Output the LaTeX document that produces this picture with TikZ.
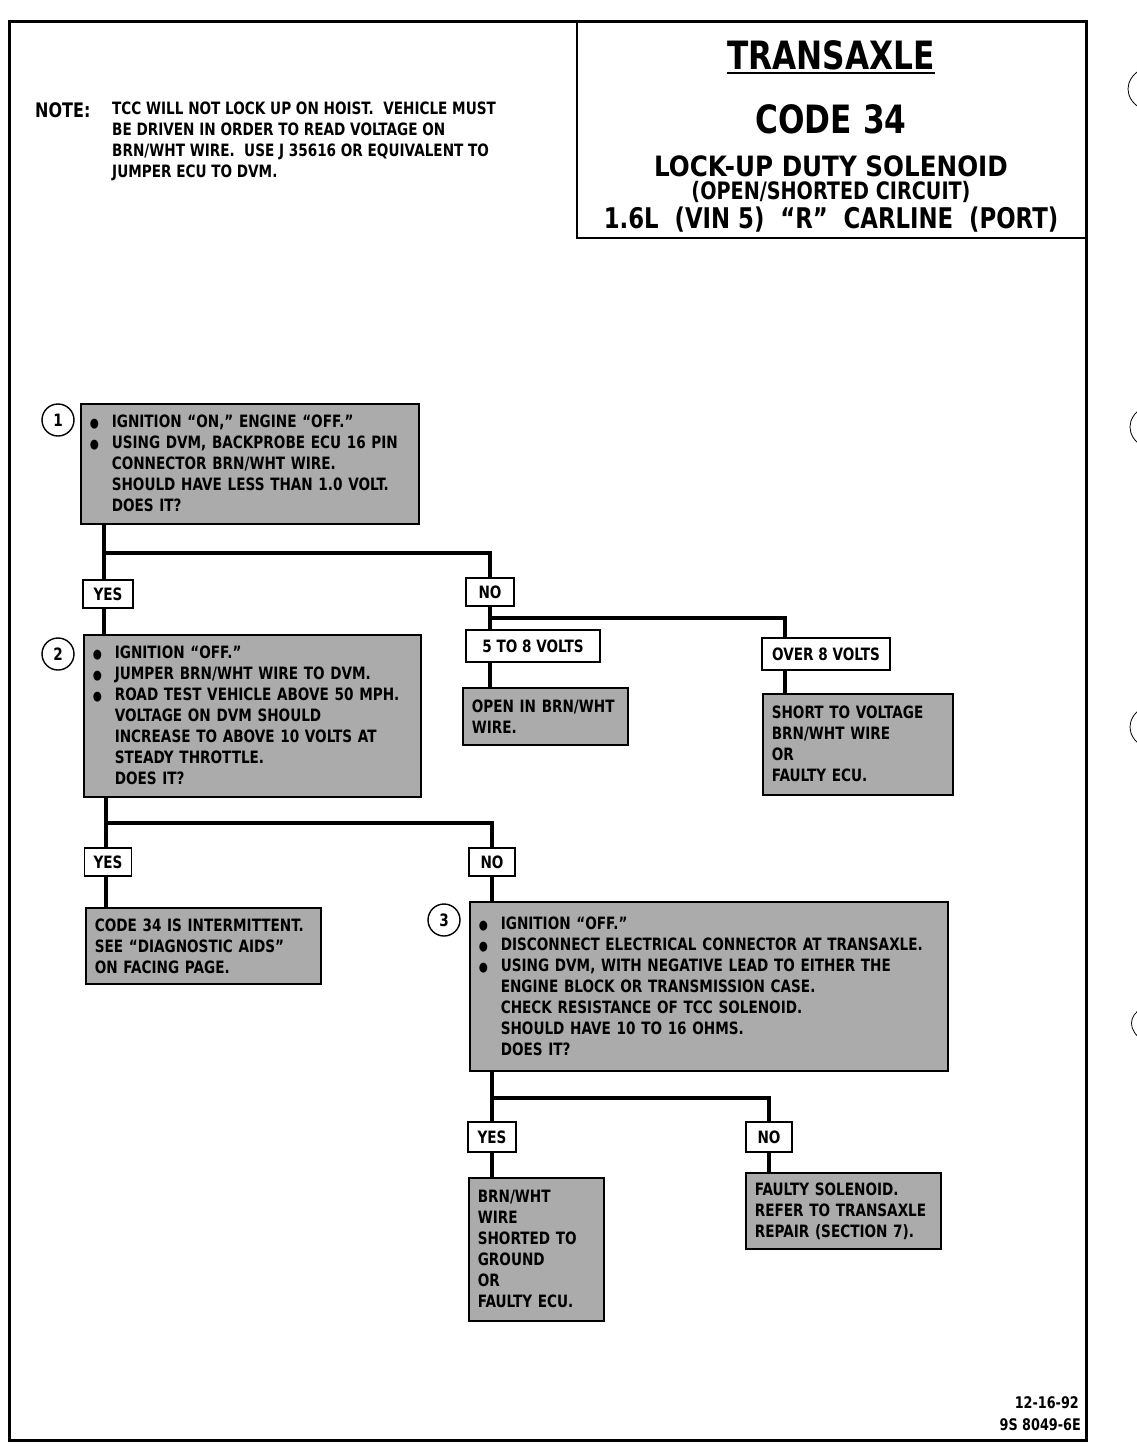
\documentclass[tikz,border=0pt]{standalone}
\usepackage{fontspec}
\setmainfont{DejaVu Sans}[FakeStretch=0.8]
\newfontfamily\widefont{DejaVu Sans}[FakeStretch=0.88]
\usetikzlibrary{positioning}

\newcommand{\bl}{\makebox[22pt][l]{\fontsize{13}{13}\selectfont ●}}
\newcommand{\ind}{\hspace*{22pt}}

\begin{document}
\begin{tikzpicture}[
    x=1pt, y=-1pt,
    font=\bfseries\fontsize{17}{21}\selectfont,
    frame/.style={line width=3pt},
    qbox/.style={draw, line width=1.6pt, fill=black!33, anchor=north west,
                 align=left, inner xsep=9pt, inner ysep=3pt},
    tag/.style={draw, line width=1.6pt, fill=white, inner sep=0pt,
                minimum height=28pt},
    num/.style={circle, draw, line width=1.4pt, minimum size=32pt, inner sep=0pt},
    wire/.style={line width=4.5pt},
    hole/.style={line width=0.8pt},
  ]
  \useasboundingbox (0,0) rectangle (1136,1456);

  % --- page frame and title block ---
  \draw[frame] (9,21) rectangle (1086,1440);
  \draw[line width=2pt] (577,21) -- (577,238) -- (1086,238);
  \node[anchor=base, inner sep=0pt] (ttl) at (831,69)
    {\fontsize{39}{39}\selectfont TRANSAXLE};
  \draw[line width=2.5pt] ([yshift=-4pt]ttl.base west) -- ([yshift=-4pt]ttl.base east);
  \node[anchor=base] (code) at (831,133) {\fontsize{39}{39}\selectfont CODE 34};
  \node[anchor=base] (sub1) at (831,176)
    {\widefont\fontsize{28}{28}\selectfont LOCK-UP DUTY SOLENOID};
  \node[anchor=base] (sub2) at (831,199)
    {\fontsize{24}{24}\selectfont (OPEN/SHORTED CIRCUIT)};
  \node[anchor=base] (sub3) at (831,228)
    {\fontsize{28.5}{28.5}\selectfont 1.6L\ \ (VIN 5)\ \ “R”\ \ CARLINE\ \ (PORT)};

  % --- note ---
  \node[anchor=base west, inner sep=0pt, font=\bfseries\fontsize{20}{20}\selectfont]
    (notehd) at (35,117) {NOTE:};
  \node[anchor=north west, align=left, inner sep=0pt] (note) at (112,102)
    {TCC WILL NOT LOCK UP ON HOIST.\ \ VEHICLE MUST\\
     BE DRIVEN IN ORDER TO READ VOLTAGE ON\\
     BRN/WHT WIRE.\ \ USE J 35616 OR EQUIVALENT TO\\
     JUMPER ECU TO DVM.};

  % --- step 1 ---
  \node[qbox, text width=320pt, minimum height=120pt] (q1) at (80,403)
    {\bl IGNITION “ON,” ENGINE “OFF.”\\
     \bl USING DVM, BACKPROBE ECU 16 PIN\\
     \ind CONNECTOR BRN/WHT WIRE.\\
     \ind SHOULD HAVE LESS THAN 1.0 VOLT.\\
     \ind DOES IT?};
  \node[num] (n1) at (58,420) {1};
  \coordinate (b1) at (104,553);
  \node[tag, minimum width=50pt] (yes1) at (108,594) {YES};
  \node[tag, minimum width=48pt] (no1) at (490,592) {NO};
  \coordinate (b2) at (490,618);
  \coordinate (b3) at (785,618);
  \node[tag, minimum width=134pt, minimum height=32pt] (v58) at (533,646) {5 TO 8 VOLTS};
  \node[tag, minimum width=128pt, minimum height=32pt] (v8) at (826,654) {OVER 8 VOLTS};
  \node[qbox, text width=147pt, minimum height=57pt] (open) at (462,687)
    {OPEN IN BRN/WHT\\ WIRE.};
  \node[qbox, text width=172pt, minimum height=101pt] (short) at (762,693)
    {SHORT TO VOLTAGE\\ BRN/WHT WIRE\\ OR\\ FAULTY ECU.};

  \draw[wire] (q1.south -| b1) -- (yes1.north -| b1);
  \draw[wire] (b1) -| (no1.north);
  \draw[wire] (no1.south) -- (v58.north -| b2);
  \draw[wire] (b2) -- (b3) -- (v8.north -| b3);
  \draw[wire] (v58.south -| b2) -- (open.north -| b2);
  \draw[wire] (v8.south -| b3) -- (short.north -| b3);

  % --- step 2 ---
  \node[qbox, text width=319pt, minimum height=162pt] (q2) at (83,634)
    {\bl IGNITION “OFF.”\\
     \bl JUMPER BRN/WHT WIRE TO DVM.\\
     \bl ROAD TEST VEHICLE ABOVE 50 MPH.\\
     \ind VOLTAGE ON DVM SHOULD\\
     \ind INCREASE TO ABOVE 10 VOLTS AT\\
     \ind STEADY THROTTLE.\\
     \ind DOES IT?};
  \node[num] (n2) at (58,654) {2};
  \draw[wire] (yes1.south -| b1) -- (q2.north -| b1);
  \coordinate (b4) at (106,823);
  \node[tag, minimum width=47pt] (yes2) at (108,862) {YES};
  \node[tag, minimum width=46pt] (no2) at (492,862) {NO};
  \node[qbox, text width=217pt, minimum height=76pt] (intm) at (85,907)
    {CODE 34 IS INTERMITTENT.\\ SEE “DIAGNOSTIC AIDS”\\ ON FACING PAGE.};

  \draw[wire] (q2.south -| b4) -- (yes2.north -| b4);
  \draw[wire] (b4) -| (no2.north);
  \draw[wire] (yes2.south -| b4) -- (intm.north -| b4);

  % --- step 3 ---
  \node[qbox, text width=460pt, minimum height=169pt] (q3) at (469,901)
    {\bl IGNITION “OFF.”\\
     \bl DISCONNECT ELECTRICAL CONNECTOR AT TRANSAXLE.\\
     \bl USING DVM, WITH NEGATIVE LEAD TO EITHER THE\\
     \ind ENGINE BLOCK OR TRANSMISSION CASE.\\
     \ind CHECK RESISTANCE OF TCC SOLENOID.\\
     \ind SHOULD HAVE 10 TO 16 OHMS.\\
     \ind DOES IT?};
  \node[num] (n3) at (444,920) {3};
  \draw[wire] (no2.south) -- (q3.north -| no2);
  \coordinate (b5) at (492,1098);
  \node[tag, minimum width=48pt, minimum height=30pt] (yes3) at (492,1137) {YES};
  \node[tag, minimum width=46pt, minimum height=30pt] (no3) at (769,1137) {NO};
  \node[qbox, text width=117pt, minimum height=143pt] (gnd) at (468,1177)
    {BRN/WHT\\ WIRE\\ SHORTED TO\\ GROUND\\ OR\\ FAULTY ECU.};
  \node[qbox, text width=177pt, minimum height=76pt] (sol) at (745,1172)
    {FAULTY SOLENOID.\\ REFER TO TRANSAXLE\\ REPAIR (SECTION 7).};

  \draw[wire] (q3.south -| b5) -- (yes3.north);
  \draw[wire] (b5) -| (no3.north);
  \draw[wire] (yes3.south) -- (gnd.north -| yes3);
  \draw[wire] (no3.south) -- (sol.north -| no3);

  % --- date and number ---
  \node[anchor=base east, inner sep=0pt, font=\bfseries\fontsize{16}{16}\selectfont]
    (date) at (1079,1408) {12-16-92};
  \node[anchor=base east, inner sep=0pt, font=\bfseries\fontsize{16}{16}\selectfont]
    (docno) at (1081,1430) {9S 8049-6E};

  % --- binder holes ---
  \draw[hole] (1140,70) .. controls (1124,80) and (1124,98) .. (1140,108);
  \draw[hole] (1142,408) .. controls (1126,418) and (1126,436) .. (1142,446);
  \draw[hole] (1142,708) .. controls (1126,718) and (1126,736) .. (1142,746);
  \draw[hole] (1142,1008) .. controls (1128,1016) and (1128,1030) .. (1142,1040);
\end{tikzpicture}
\end{document}
